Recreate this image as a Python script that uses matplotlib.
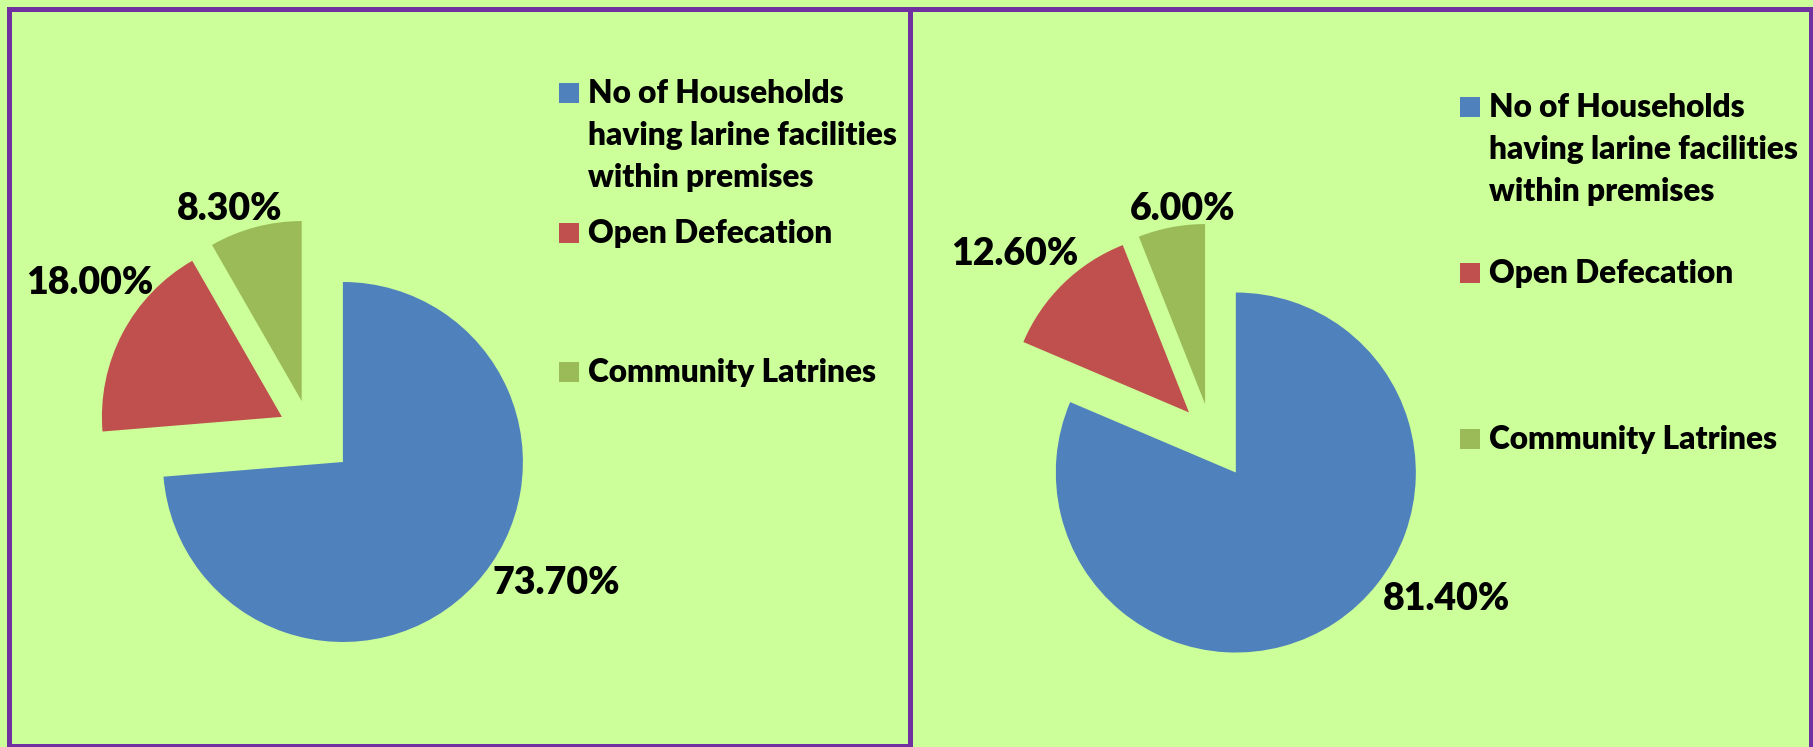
import numpy as np
import matplotlib.pyplot as plt
from matplotlib.patches import Rectangle

plt.rcParams['font.family'] = ['Lato', 'DejaVu Sans']

categories = ['No of Households\nhaving larine facilities\nwithin premises',
              'Open Defecation',
              'Community Latrines']
share_before = [73.70, 18.00, 8.30]
share_after = [81.40, 12.60, 6.00]
colors = ['#4F81BD', '#C0504D', '#9BBB59']

W, H = 1813, 747
BG = '#CCFF99'
PURPLE = '#7030A0'
R_PX = 180.0          # pie radius in pixels
HALF = 300.0          # half size of each pie axes in pixels

fig = plt.figure(figsize=(W / 100, H / 100), dpi=100, facecolor=BG)


def fx(x):
    return x / W


def fy(y):
    return 1 - y / H


def panel_border(x0, y0, x1, y1):
    fig.add_artist(Rectangle((fx(x0), fy(y1)), fx(x1) - fx(x0), fy(y0) - fy(y1),
                             transform=fig.transFigure, fill=False,
                             edgecolor=PURPLE, linewidth=3.6, clip_on=False))


def draw_pie(values, center, label_pos):
    cx, cy = center
    ax = fig.add_axes([fx(cx - HALF), fy(cy + HALF), 2 * HALF / W, 2 * HALF / H])
    ax.pie(values, colors=colors, startangle=90, counterclock=False,
           explode=[0.25, 0.175, 0.175], radius=1.0,
           wedgeprops=dict(linewidth=0))
    lim = HALF / R_PX
    ax.set_xlim(-lim, lim)
    ax.set_ylim(-lim, lim)
    ax.set_aspect('equal')
    ax.axis('off')
    for v, (px, py) in zip(values, label_pos):
        ax.text(px, py, f'{v:.2f}%', ha='center', va='center',
                fontsize=27, fontweight='heavy', color='black')
    return ax


def draw_legend(x_marker, x_text, baselines):
    line_gap = 42
    for cat, col, base in zip(categories, colors, baselines):
        fig.add_artist(Rectangle((fx(x_marker), fy(base)), 20 / W, 20 / H,
                                 transform=fig.transFigure, facecolor=col,
                                 edgecolor='none'))
        for i, line in enumerate(cat.split('\n')):
            fig.text(fx(x_text), fy(base + i * line_gap), line, ha='left',
                     va='baseline', fontsize=22.8, fontweight='heavy',
                     color='black')


# panel frames
panel_border(9, 8.5, 909.5, 745.5)
panel_border(909.5, 8.5, 1811, 770)

# left panel
draw_pie(share_before, (309.8, 431.5),
         [(1.371, -0.842), (-1.223, 0.825), (-0.447, 1.236)])
draw_legend(559, 588, [103, 243, 382])

# right panel
draw_pie(share_after, (1211, 435),
         [(1.308, -0.911), (-1.092, 1.003), (-0.156, 1.256)])
draw_legend(1460, 1489, [117, 283, 449])

fig.savefig('out.png', dpi=100, facecolor=BG)
